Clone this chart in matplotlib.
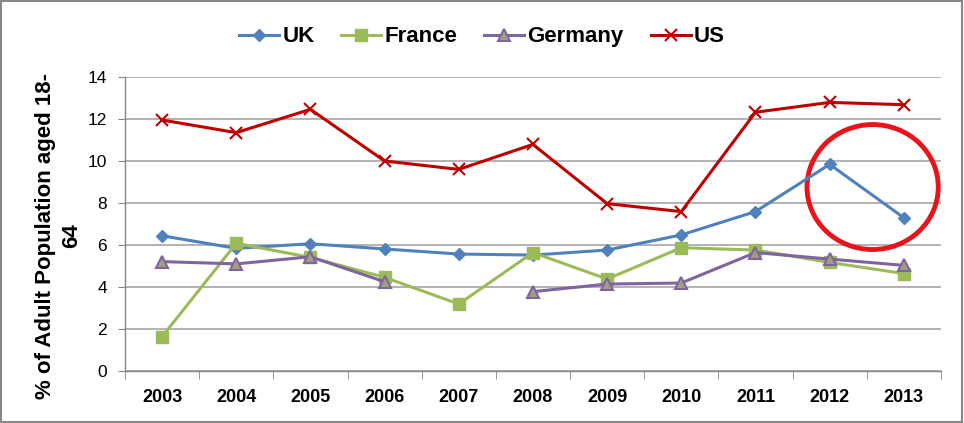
import numpy as np
import matplotlib
matplotlib.use("Agg")
import matplotlib.pyplot as plt
from matplotlib.patches import Ellipse

years = ['2003', '2004', '2005', '2006', '2007', '2008', '2009', '2010', '2011', '2012', '2013']
uk = [6.44, 5.84, 6.06, 5.81, 5.57, 5.52, 5.76, 6.48, 7.59, 9.84, 7.30]
france = [1.64, 6.08, 5.41, 4.46, 3.19, 5.64, 4.38, 5.87, 5.76, 5.17, 4.64]
germany = [5.21, 5.10, 5.44, 4.25, np.nan, 3.78, 4.14, 4.19, 5.64, 5.33, 5.03]
us = [11.95, 11.35, 12.46, 10.0, 9.6, 10.79, 7.97, 7.59, 12.32, 12.79, 12.68]

plt.rcParams['font.family'] = ['Liberation Sans', 'DejaVu Sans']

fig = plt.figure(figsize=(9.64, 4.23), dpi=100)
ax = fig.add_axes([0.1297, 0.1229, 0.8463, 0.6951])

x = np.arange(len(years))
ax.plot(x, uk, color='#4F81BD', lw=2.2, marker='D', ms=6, mfc='#4F81BD', mec='#4F81BD', label='UK')
ax.plot(x, france, color='#9BBB59', lw=2.2, marker='s', ms=8, mfc='#9BBB59', mec='#9BBB59', label='France')
ax.plot(x, germany, color='#8064A2', lw=2.2, marker='^', ms=8, mfc='#A0A080', mec='#8064A2', mew=1.5, label='Germany')
ax.plot(x, us, color='#C00000', lw=2.2, marker='x', ms=8, mew=1.5, label='US')

ax.set_xlim(-0.5, len(years) - 0.5)
ax.set_ylim(0, 14)
ax.set_yticks(np.arange(0, 15, 2))
ax.set_xticks(x)
ax.set_xticklabels(years, fontsize=13, fontweight='bold')
ax.set_xticks(np.arange(-0.5, len(years), 1), minor=True)
ax.tick_params(axis='x', which='major', length=0, pad=13)
ax.tick_params(axis='x', which='minor', length=6, color='#868686', direction='out')
ax.tick_params(axis='y', length=5, color='#868686', labelsize=12.5, pad=8)
ax.yaxis.grid(True, color='#A6A6A6', lw=1.2)
ax.set_axisbelow(True)
for s in ['top', 'right']:
    ax.spines[s].set_visible(False)
for s in ['left', 'bottom']:
    ax.spines[s].set_color('#868686')
    ax.spines[s].set_linewidth(1)

ax.set_ylabel('% of Adult Population aged 18-\n64', fontsize=16, fontweight='bold', linespacing=1.3)
ax.yaxis.set_label_coords(-0.053, 0.46)

ell = Ellipse((9.58, 8.76), 1.77, 5.95, fill=False, edgecolor='#E8141A', lw=3.5, clip_on=False)
ax.add_patch(ell)

fig.legend(loc='upper center', bbox_to_anchor=(0.5, 0.985), ncol=4, frameon=False,
           prop={'size': 16, 'weight': 'bold'}, handlelength=1.8, columnspacing=1.2, handletextpad=0.15)

border = plt.Rectangle((0.001, 0.002), 0.997, 0.996, transform=fig.transFigure, fill=False,
                       edgecolor='#888888', lw=1.5)
fig.patches.append(border)

fig.savefig('out.png', dpi=100)
